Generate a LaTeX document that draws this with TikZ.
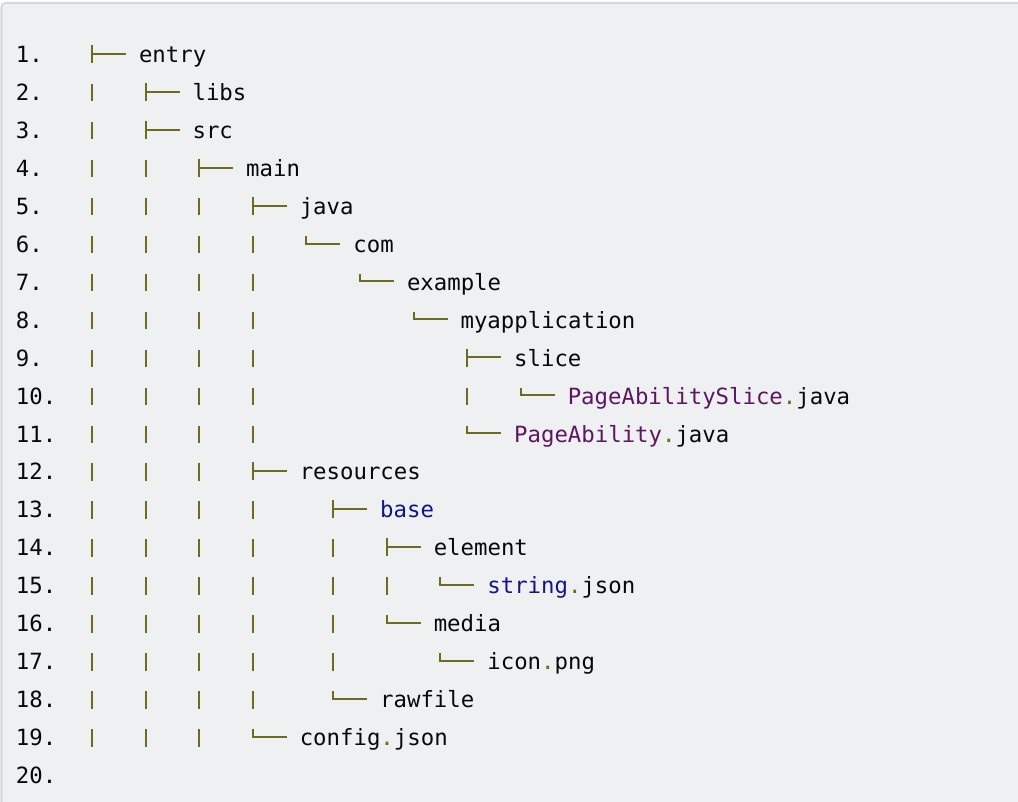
\documentclass[tikz,border=0pt]{standalone}
\usepackage{fontspec}
\newfontfamily\codefont{DejaVu Sans Mono}
\definecolor{bgcol}{RGB}{239,240,242}
\definecolor{bordercol}{RGB}{214,215,217}
\definecolor{olive}{RGB}{110,106,32}
\definecolor{purp}{RGB}{92,22,98}
\definecolor{navy}{RGB}{18,22,135}
\definecolor{ink}{RGB}{8,8,8}
\newcommand\bl[1]{(62.5+37.95*(#1-1))}
\newcommand\treeT[2]{\draw[conn] ({#1},{\bl{#2}-17.5}) -- ({#1},{\bl{#2}+0.5}) ({#1},{\bl{#2}-8.7}) -- ({#1+34},{\bl{#2}-8.7});}
\newcommand\treeL[2]{\draw[conn] ({#1},{\bl{#2}-16.5}) -- ({#1},{\bl{#2}-8.7}) -- ({#1+34},{\bl{#2}-8.7});}
\newcommand\treeP[2]{\draw[conn] ({#1},{\bl{#2}-16.5}) -- ({#1},{\bl{#2}+1});}
\newcommand\dotc{{\color{olive}.}}
\begin{document}
\begin{tikzpicture}[x=0.75pt,y=-0.75pt,
  conn/.style={draw=olive,line width=1.5pt,line join=miter},
  txt/.style={anchor=base west,inner sep=0pt,outer sep=0pt,text=ink,font=\codefont\fontsize{16.75pt}{20pt}\selectfont},
  num/.style={txt}]
\useasboundingbox (0,0) rectangle (1018,802);
\fill[white] (0,0) rectangle (1018,802);
\begin{scope}
\clip (0,0) rectangle (1018,802);
\draw[bordercol,fill=bgcol,line width=1.5pt,rounded corners=3pt] (1.5,3) rectangle (1040,830);
\end{scope}
% line numbers
\foreach \i in {1,...,20} {
  \node[num] (ln\i) at (16,{\bl{\i}}) {\i.};
}
% line 1
\treeT{92}{1}
\node[txt] (entry) at (139,{\bl{1}}) {entry};
% line 2
\treeP{92}{2}\treeT{145.6}{2}
\node[txt] (libs) at (192.6,{\bl{2}}) {libs};
% line 3
\treeP{92}{3}\treeT{145.6}{3}
\node[txt] (src) at (192.6,{\bl{3}}) {src};
% line 4
\treeP{92}{4}\treeP{145.6}{4}\treeT{199.2}{4}
\node[txt] (main) at (246.2,{\bl{4}}) {main};
% line 5
\foreach \c in {92,145.6,199.2}{\treeP{\c}{5}}
\treeT{252.8}{5}
\node[txt] (java) at (299.8,{\bl{5}}) {java};
% line 6
\foreach \c in {92,145.6,199.2,252.8}{\treeP{\c}{6}}
\treeL{306.4}{6}
\node[txt] (com) at (353.4,{\bl{6}}) {com};
% line 7
\foreach \c in {92,145.6,199.2,252.8}{\treeP{\c}{7}}
\treeL{360}{7}
\node[txt] (example) at (407,{\bl{7}}) {example};
% line 8
\foreach \c in {92,145.6,199.2,252.8}{\treeP{\c}{8}}
\treeL{413.6}{8}
\node[txt] (myapp) at (460.6,{\bl{8}}) {myapplication};
% line 9
\foreach \c in {92,145.6,199.2,252.8}{\treeP{\c}{9}}
\treeT{467.2}{9}
\node[txt] (slice) at (514.2,{\bl{9}}) {slice};
% line 10
\foreach \c in {92,145.6,199.2,252.8,467.2}{\treeP{\c}{10}}
\treeL{520.8}{10}
\node[txt] (pas) at (567.8,{\bl{10}}) {{\color{purp}PageAbilitySlice}\dotc java};
% line 11
\foreach \c in {92,145.6,199.2,252.8}{\treeP{\c}{11}}
\treeL{467.2}{11}
\node[txt] (pa) at (514.2,{\bl{11}}) {{\color{purp}PageAbility}\dotc java};
% line 12
\foreach \c in {92,145.6,199.2}{\treeP{\c}{12}}
\treeT{252.8}{12}
\node[txt] (resources) at (299.8,{\bl{12}}) {resources};
% line 13
\foreach \c in {92,145.6,199.2,252.8}{\treeP{\c}{13}}
\treeT{333.2}{13}
\node[txt] (base) at (380.2,{\bl{13}}) {{\color{navy}base}};
% line 14
\foreach \c in {92,145.6,199.2,252.8,333.2}{\treeP{\c}{14}}
\treeT{386.8}{14}
\node[txt] (element) at (433.8,{\bl{14}}) {element};
% line 15
\foreach \c in {92,145.6,199.2,252.8,333.2,386.8}{\treeP{\c}{15}}
\treeL{440.4}{15}
\node[txt] (string) at (487.4,{\bl{15}}) {{\color{navy}string}\dotc json};
% line 16
\foreach \c in {92,145.6,199.2,252.8,333.2}{\treeP{\c}{16}}
\treeL{386.8}{16}
\node[txt] (media) at (433.8,{\bl{16}}) {media};
% line 17
\foreach \c in {92,145.6,199.2,252.8,333.2}{\treeP{\c}{17}}
\treeL{440.4}{17}
\node[txt] (icon) at (487.4,{\bl{17}}) {icon\dotc png};
% line 18
\foreach \c in {92,145.6,199.2,252.8}{\treeP{\c}{18}}
\treeL{333.2}{18}
\node[txt] (rawfile) at (380.2,{\bl{18}}) {rawfile};
% line 19
\foreach \c in {92,145.6,199.2}{\treeP{\c}{19}}
\treeL{252.8}{19}
\node[txt] (config) at (299.8,{\bl{19}}) {config\dotc json};
\end{tikzpicture}
\end{document}
